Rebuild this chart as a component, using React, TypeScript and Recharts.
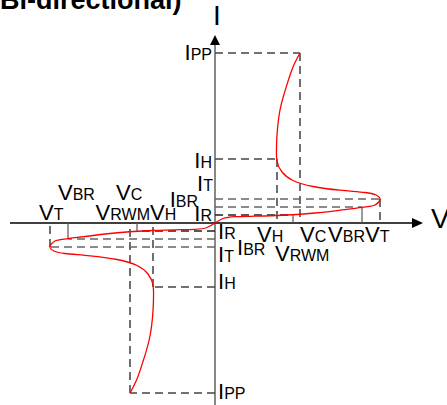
import React from "react";
import { LineChart, Line, XAxis, YAxis, ReferenceLine, ReferenceDot } from "recharts";

// characteristic points (arbitrary units, origin at the axis crossing)
const VH = 62;
const VRWM = 78;
const VC = 85;
const VBR = 147;
const VT = 165;
const IR = 8;
const IBR = 16;
const IT = 24;
const IH = 64;
const IPP = 170;

// red I-V curve, from -IPP up to +IPP
const curveV = [
  -85, -78, -71.5, -65, -62, -61.5, -62, -67, -78, -98, -125, -150, -161, -165, -160, -147, -100, -62, -40, -20, -8,
  0,
  8, 20, 40, 62, 100, 147, 160, 165, 161, 150, 125, 98, 78, 67, 62, 61.5, 62, 65, 71.5, 78, 85,
];
const curveI = [
  -170, -156, -137, -113, -88, -75, -62, -51, -42.5, -36.5, -32.8, -30.5, -28, -23.5, -18, -15.6, -10, -7.5, -6.8, -6.3, -4.5,
  0,
  4.5, 6.3, 6.8, 7.5, 10, 15.6, 18, 23.5, 28, 30.5, 32.8, 36.5, 42.5, 51, 62, 75, 88, 113, 137, 156, 170,
];

const curve = curveV.map((v, k) => ({ v, i: curveI[k] }));

const FONT = "Arial, 'Liberation Sans', sans-serif";
const DASH = "8 5";

const seg = (k: string, x1: number, y1: number, x2: number, y2: number, stroke = "#444", dash = DASH, w = 1.3) => (
  <ReferenceLine
    key={k}
    segment={[{ x: x1, y: y1 }, { x: x2, y: y2 }]}
    stroke={stroke}
    strokeWidth={w}
    strokeDasharray={dash}
    ifOverflow="visible"
  />
);

const lab = (k: string, x: number, y: number, main: string, sub: string, dx: number, dy: number, anchor = "start", size = 22, subSize = 16) => (
  <ReferenceDot
    key={k}
    x={x}
    y={y}
    r={0}
    ifOverflow="visible"
    shape={(p: any) => (
      <text x={p.cx + dx} y={p.cy + dy} textAnchor={anchor} fontFamily={FONT} fill="#000">
        <tspan fontSize={size}>{main}</tspan>
        {sub ? <tspan fontSize={subSize}>{sub}</tspan> : null}
      </text>
    )}
  />
);

export default function App() {
  return (
    <div style={{ position: "absolute", left: 0, top: 0, width: 447, height: 405, overflow: "hidden", background: "#fff" }}>
      <div
        style={{
          position: "absolute",
          left: 0,
          top: -13,
          fontFamily: FONT,
          fontWeight: "bold",
          fontSize: 27,
          lineHeight: "27px",
          whiteSpace: "nowrap",
        }}
      >
        Bi-directional)
      </div>
      <LineChart width={447} height={405} data={curve} margin={{ top: 0, right: 0, bottom: 0, left: 0 }}>
        <XAxis dataKey="v" type="number" domain={[-215, 232]} allowDataOverflow hide />
        <YAxis type="number" domain={[-182, 223]} allowDataOverflow hide />

        {/* axes */}
        {seg("iax", 0, -182, 0, 181, "#888", "none", 2)}
        {seg("vax", -205, 0, 198, 0, "#000", "none", 1.5)}
        <ReferenceDot
          x={0}
          y={188}
          r={0}
          ifOverflow="visible"
          shape={(p: any) => <polygon points={`${p.cx},${p.cy} ${p.cx - 5},${p.cy + 10} ${p.cx + 5},${p.cy + 10}`} fill="#000" />}
        />
        <ReferenceDot
          x={208}
          y={0}
          r={0}
          ifOverflow="visible"
          shape={(p: any) => <polygon points={`${p.cx},${p.cy} ${p.cx - 11},${p.cy - 5} ${p.cx - 11},${p.cy + 5}`} fill="#000" />}
        />

        {/* guide lines, positive quadrant */}
        {seg("ippH", 0, IPP, VC, IPP)}
        {seg("vcV", VC, IPP, VC, 0, "#222")}
        {seg("ihH", 0, IH, VH, IH)}
        {seg("vhV", VH, IH, VH, 0, "#222")}
        {seg("itH", 0, IT, VT, IT, "#666")}
        {seg("vtV", VT, IT, VT, 0, "#222")}
        {seg("ibrH", 0, IBR, VBR, IBR, "#666")}
        {seg("vbrV", VBR, IBR, VBR, 0, "#555", "none", 1.2)}
        {seg("irH", 0, IR, VRWM, IR, "#222")}
        {seg("vrwmV", VRWM, IR, VRWM, 0, "#555", "none", 1.2)}

        {/* guide lines, negative quadrant */}
        {seg("ippHn", 0, -IPP, -VC, -IPP)}
        {seg("vcVn", -VC, -IPP, -VC, 0, "#222")}
        {seg("ihHn", 0, -IH, -VH, -IH)}
        {seg("vhVn", -VH, -IH, -VH, 0, "#222")}
        {seg("itHn", 0, -IT, -VT, -IT, "#666")}
        {seg("vtVn", -VT, -IT, -VT, 0, "#222")}
        {seg("ibrHn", 0, -IBR, -VBR, -IBR, "#666")}
        {seg("vbrVn", -VBR, -IBR, -VBR, 0, "#555", "none", 1.2)}
        {seg("irHn", 0, -IR, -VRWM, -IR, "#222")}
        {seg("vrwmVn", -VRWM, -IR, -VRWM, 0, "#555", "none", 1.2)}

        <Line
          dataKey="i"
          type="natural"
          stroke="#ff0000"
          strokeWidth={1.3}
          dot={false}
          activeDot={false}
          isAnimationActive={false}
        />

        {/* axis titles */}
        {lab("I", 0, 188, "I", "", -2, -10, "start", 28)}
        {lab("V", 208, 0, "V", "", 8, 5, "start", 28)}

        {/* current labels, positive side */}
        {lab("lIPP", 0, IPP, "I", "PP", -3, 7, "end")}
        {lab("lIH", 0, IH, "I", "H", -3, 9, "end")}
        {lab("lIT", 0, IT, "I", "T", -2, -8, "end")}
        {lab("lIBR", 0, IBR, "I", "BR", -17, 0, "end")}
        {lab("lIR", 0, IR, "I", "R", -3, 6, "end")}

        {/* voltage labels, positive side */}
        {lab("lVH", VH, 0, "V", "H", -20, 19)}
        {lab("lVC", VC, 0, "V", "C", 0, 19)}
        {lab("lVBR", VBR, 0, "V", "BR", 3, 19, "end")}
        {lab("lVT", VT, 0, "V", "T", -15, 19)}
        {lab("lVRWM", VRWM, 0, "V", "RWM", -18, 38)}

        {/* voltage labels, negative side */}
        {lab("lVTn", -VT, 0, "V", "T", -11, -3)}
        {lab("lVBRn", -VBR, 0, "V", "BR", -10, -23)}
        {lab("lVCn", -VC, 0, "V", "C", -14, -23)}
        {lab("lVRWMn", -VRWM, 0, "V", "RWM", 13, -3, "end")}
        {lab("lVHn", -VH, 0, "V", "H", -3, -3)}

        {/* current labels, negative side */}
        {lab("lIRn", 0, -IR, "I", "R", 3, 8)}
        {lab("lITn", 0, -IT, "I", "T", 3, 15)}
        {lab("lIBRn", 0, -IBR, "I", "BR", 22, 16)}
        {lab("lIHn", 0, -IH, "I", "H", 3, 2)}
        {lab("lIPPn", 0, -IPP, "I", "PP", 3, 6)}
      </LineChart>
    </div>
  );
}
